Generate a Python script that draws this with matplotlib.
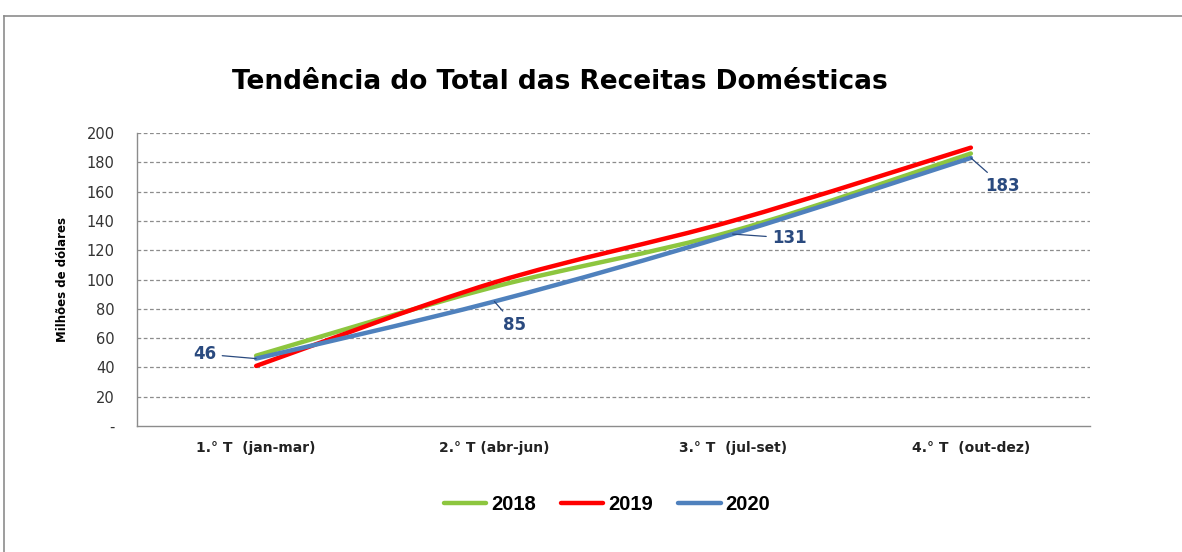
import matplotlib
matplotlib.use("Agg")
import matplotlib.pyplot as plt
from matplotlib.path import Path
from matplotlib.patches import PathPatch
from matplotlib.lines import Line2D
import numpy as np

categories = ["1.° T  (jan-mar)", "2.° T (abr-jun)", "3.° T  (jul-set)", "4.° T  (out-dez)"]
series_names = ["2018", "2019", "2020"]
v2018 = [48, 95, 133, 186]
v2019 = [41, 98, 140, 190]
v2020 = [46, 85, 131, 183]
labels2020 = ["46", "85", "131", "183"]
yticks = [0, 20, 40, 60, 80, 100, 120, 140, 160, 180, 200]
ytick_labels = ["-", "20", "40", "60", "80", "100", "120", "140", "160", "180", "200"]

colors = {"2018": "#8DC63F", "2019": "#FF0000", "2020": "#4F81BD"}
label_color = "#2A4A7F"

fig = plt.figure(figsize=(11.82, 5.52), dpi=100)
ax = fig.add_axes([137/1182, 1-426/552, (1090-137)/1182, (426-133)/552])

def smooth_path(xs, ys):
    pts = np.column_stack([xs, ys]).astype(float)
    n = len(pts)
    verts = [pts[0]]
    codes = [Path.MOVETO]
    for i in range(n-1):
        p0 = pts[i-1] if i > 0 else pts[i]
        p1 = pts[i]
        p2 = pts[i+1]
        p3 = pts[i+2] if i+2 < n else pts[i+1]
        c1 = p1 + (p2 - p0) / 6.0
        c2 = p2 - (p3 - p1) / 6.0
        verts += [c1, c2, p2]
        codes += [Path.CURVE4]*3
    return Path(verts, codes)

xs = np.arange(len(categories))
for name, vals in zip(series_names, [v2018, v2019, v2020]):
    p = smooth_path(xs, vals)
    ax.add_patch(PathPatch(p, facecolor="none", edgecolor=colors[name], lw=3.2,
                           capstyle="round", joinstyle="round", zorder=3))

ax.set_xlim(-0.5, len(categories)-0.5)
ax.set_ylim(0, 200)
ax.set_yticks(yticks)
ax.set_yticklabels(ytick_labels, fontsize=10.5, color="#333333", family="DejaVu Sans")
ax.set_xticks(xs)
ax.set_xticklabels(categories, fontsize=10, fontweight="bold", color="#222222", family="DejaVu Sans")
ax.tick_params(axis="both", length=0)
ax.tick_params(axis="y", pad=16)
ax.tick_params(axis="x", pad=11)
for yv in yticks[1:]:
    ax.axhline(yv, color="#8C8C8C", lw=0.9, ls=(0, (3, 2)), zorder=1)
for s in ["top", "right"]:
    ax.spines[s].set_visible(False)
ax.spines["left"].set_color("#8C8C8C")
ax.spines["bottom"].set_color("#8C8C8C")
ax.spines["left"].set_linewidth(1.0)
ax.spines["bottom"].set_linewidth(1.0)

ax.set_ylabel("Milhões de dólares", fontsize=8.5, fontweight="bold", family="DejaVu Sans", labelpad=13)

# data labels for 2020
label_pos = [(-0.214, 49), (1.086, 69), (2.237, 128.3), (3.134, 163.8)]
for i, (txt, (tx, ty)) in enumerate(zip(labels2020, label_pos)):
    ax.annotate(txt, xy=(xs[i], v2020[i]), xytext=(tx, ty), textcoords="data",
                fontsize=12, fontweight="bold", color=label_color, family="DejaVu Sans",
                ha="center", va="center",
                arrowprops=dict(arrowstyle="-", color=label_color, lw=0.9,
                                shrinkA=2, shrinkB=0), zorder=4)

fig.text(560/1182, 1-82/552, "Tendência do Total das Receitas Domésticas", ha="center", va="center",
         fontsize=19, fontweight="bold", family="DejaVu Sans")

handles = [Line2D([0], [0], color=colors[n], lw=3.2, solid_capstyle="round") for n in series_names]
fig.legend(handles, series_names, loc="center", bbox_to_anchor=(607/1182, 1-505/552), ncol=3,
           frameon=False, handlelength=2.1, handletextpad=0.25, columnspacing=1.25,
           prop={"family": "Liberation Sans", "weight": "bold", "size": 14.5})

# outer chart border
fig.add_artist(Line2D([4/1182, 1.0], [1-16/552, 1-16/552], transform=fig.transFigure, color="#8C8C8C", lw=1.2))
fig.add_artist(Line2D([4/1182, 4/1182], [1-16/552, 0], transform=fig.transFigure, color="#8C8C8C", lw=1.2))

fig.savefig("out.png", dpi=100)
